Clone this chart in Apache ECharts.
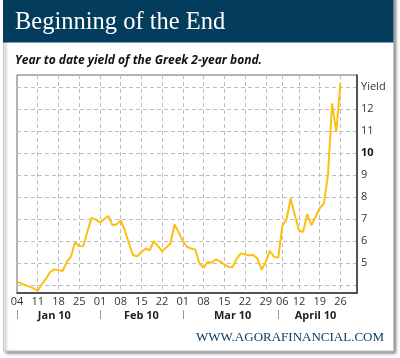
<!DOCTYPE html>
<html><head><meta charset="utf-8">
<script src="https://cdn.jsdelivr.net/npm/echarts@6/dist/echarts.min.js"></script>
<style>html,body{margin:0;padding:0;background:#fff}#c{width:400px;height:358px}</style>
</head><body><div id="c"></div>
<script>
// Trading days (MM-DD), Jan 4 – Apr 30 2010 (Apr 2 and Apr 5 closed)
const tradingDays = [
 '01-04','01-05','01-06','01-07','01-08','01-11','01-12','01-13','01-14','01-15',
 '01-18','01-19','01-20','01-21','01-22','01-25','01-26','01-27','01-28','01-29',
 '02-01','02-02','02-03','02-04','02-05','02-08','02-09','02-10','02-11','02-12',
 '02-15','02-16','02-17','02-18','02-19','02-22','02-23','02-24','02-25','02-26',
 '03-01','03-02','03-03','03-04','03-05','03-08','03-09','03-10','03-11','03-12',
 '03-15','03-16','03-17','03-18','03-19','03-22','03-23','03-24','03-25','03-26',
 '03-29','03-30','03-31','04-01','04-06','04-07','04-08','04-09',
 '04-12','04-13','04-14','04-15','04-16','04-19','04-20','04-21','04-22','04-23',
 '04-26','04-27','04-28','04-29','04-30'
];
// Greek 2-year bond yield (%)
const yields = [
 4.15,4.08,4.00,3.94,3.86,3.75,4.05,4.30,4.60,4.72,
 4.70,4.65,5.05,5.30,5.94,5.77,5.78,6.45,7.06,6.98,
 6.85,7.00,7.15,6.73,6.76,6.95,6.50,5.90,5.36,5.32,
 5.50,5.67,5.59,6.00,5.78,5.55,5.72,5.90,6.76,6.40,
 6.00,5.75,5.67,5.62,4.99,4.80,5.06,5.03,5.18,5.08,
 4.95,4.83,4.83,5.21,5.45,5.40,5.36,5.38,5.21,4.71,
 5.06,5.56,5.29,5.26,6.70,6.99,7.94,7.20,
 6.50,6.42,7.23,6.73,7.10,7.50,7.71,9.00,12.26,10.97,
 13.17
];
const tickDates  = ['01-04','01-11','01-18','01-25','02-01','02-08','02-15','02-22','03-01','03-08','03-15','03-22','03-29','04-06','04-12','04-19','04-26'];
const tickLabels = ['04','11','18','25','01','08','15','22','01','08','15','22','29','06','12','19','26'];
const monthStarts   = ['01-04','02-01','03-01','04-01'];
const monthLabelAt  = ['01-15','02-15','03-17','04-16'];
const monthLabels   = ['Jan 10','Feb 10','Mar 10','April 10'];
const yGridValues  = [4,5,6,7,8,9,10,11,12,13];
const yLabelValues = [5,6,7,8,9,10,11,12,13];

const chart = echarts.init(document.getElementById('c'), null, {renderer:'canvas'});
const font = '"Open Sans", "Noto Sans", sans-serif';
chart.setOption({
  backgroundColor: '#fff',
  animation: false,
  graphic: [
    { type:'rect', z:-10, shape:{x:3.5, y:-3, width:390, height:354},
      style:{fill:'#fff', stroke:'#c8c8c8', lineWidth:1, shadowBlur:3, shadowOffsetX:2, shadowOffsetY:2, shadowColor:'rgba(0,0,0,0.45)'} },
    { type:'rect', z:-9, shape:{x:3, y:0, width:390.5, height:42.5}, style:{fill:'#033c5d'} },
    { type:'text', z:5, style:{ text:'Beginning of the End', x:15, y:23, fill:'#fff',
        font:'24.5px "Liberation Serif", "DejaVu Serif", serif', verticalAlign:'middle',
        shadowColor:'rgba(0,0,0,0.85)', shadowOffsetX:1.5, shadowOffsetY:1.5, shadowBlur:1 } },
    { type:'text', z:5, style:{ text:'Year to date yield of the Greek 2-year bond.', x:15, y:60.5, fill:'#111',
        font:'italic bold 12px "Open Sans", "Noto Sans", sans-serif', verticalAlign:'middle' } },
    { type:'text', z:5, style:{ text:'WWW.AGORAFINANCIAL.COM', x:384, y:337.5, fill:'#0d3d62', align:'right',
        font:'13px "Liberation Serif", "DejaVu Serif", serif', verticalAlign:'middle' } }
  ],
  grid: { left:17, right:43, top:75, bottom:65, show:true, borderColor:'#666', borderWidth:1, backgroundColor:'transparent' },
  xAxis: [
    { type:'category', data: tradingDays, boundaryGap:false, position:'bottom',
      axisLine:{show:true, lineStyle:{color:'#333', width:1.5}},
      axisTick:{show:false},
      axisLabel:{ interval:(i,v)=>tickDates.indexOf(v)>=0, formatter:v=>tickLabels[tickDates.indexOf(v)] || '',
        margin:3, color:'#333', fontSize:11, fontFamily:font },
      splitLine:{ show:true, interval:(i,v)=>tickDates.indexOf(v)>0 && i<82, lineStyle:{color:'#bdbdbd', type:[4,3], width:1} } },
    { type:'category', data: tradingDays, boundaryGap:false, position:'bottom', offset:17,
      axisLine:{show:false},
      axisTick:{show:true, interval:(i,v)=>monthStarts.indexOf(v)>=0, length:9, lineStyle:{color:'#999', width:1}},
      axisLabel:{ interval:(i,v)=>monthLabelAt.indexOf(v)>=0, formatter:v=>monthLabels[monthLabelAt.indexOf(v)] || '',
        margin:0, color:'#222', fontSize:11, fontWeight:'bold', fontFamily:font },
      splitLine:{show:false} }
  ],
  yAxis: {
    type:'value', position:'right', min:3.65, max:13.55,
    axisLine:{show:true, lineStyle:{color:'#333', width:1.5}},
    axisTick:{show:false, customValues: yGridValues},
    axisLabel:{ customValues: yLabelValues, margin:4, color:'#333', fontSize:11, fontFamily:font,
      formatter: v => v===13 ? 'Yield' : (v===10 ? '{b|10}' : String(v)),
      rich:{ b:{fontWeight:'bold', fontSize:11, color:'#111', fontFamily:font} } },
    splitLine:{ show:true, lineStyle:{color:'#bdbdbd', type:[4,3], width:1} }
  },
  series: [{
    type:'line', xAxisIndex:0, data: yields, symbol:'none', smooth:false,
    lineStyle:{color:'#fcbf12', width:2}, z:3
  }]
});
</script></body></html>
